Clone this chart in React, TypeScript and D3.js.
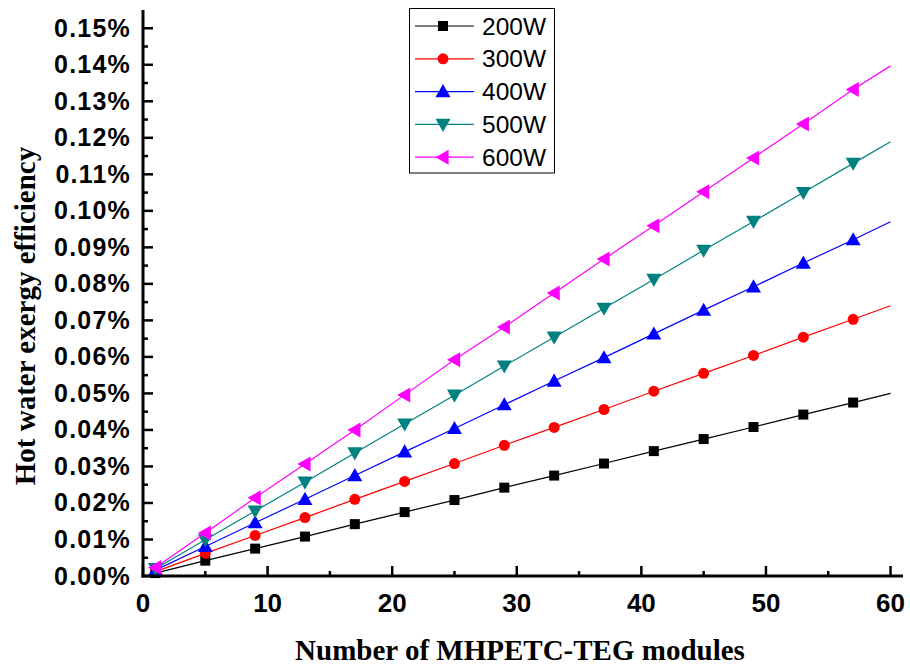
import React from "react";
import * as d3 from "d3";

const modules = [1, 5, 9, 13, 17, 21, 25, 29, 33, 37, 41, 45, 49, 53, 57, 60];
const markerModules = [1, 5, 9, 13, 17, 21, 25, 29, 33, 37, 41, 45, 49, 53, 57];
const seriesNames = ["200W", "300W", "400W", "500W", "600W"];
// values in percent
const s200 = [0.0008, 0.0042, 0.0075, 0.0108, 0.0142, 0.0175, 0.0208, 0.0242, 0.0275, 0.0308, 0.0342, 0.0375, 0.0408, 0.0442, 0.0475, 0.05];
const s300 = [0.0012, 0.0062, 0.0111, 0.016, 0.021, 0.0259, 0.0308, 0.0358, 0.0407, 0.0456, 0.0506, 0.0555, 0.0604, 0.0654, 0.0703, 0.074];
const s400 = [0.0016, 0.0081, 0.0146, 0.021, 0.0275, 0.034, 0.0404, 0.0469, 0.0534, 0.0598, 0.0663, 0.0728, 0.0792, 0.0857, 0.0921, 0.097];
const s500 = [0.002, 0.0099, 0.0178, 0.0257, 0.0337, 0.0416, 0.0495, 0.0575, 0.0654, 0.0733, 0.0812, 0.0892, 0.0971, 0.105, 0.113, 0.1189];
const s600 = [0.0023, 0.0118, 0.0214, 0.0307, 0.04, 0.0496, 0.0592, 0.0682, 0.0775, 0.0868, 0.0959, 0.1052, 0.1145, 0.1238, 0.1332, 0.1397];
const seriesValues = [s200, s300, s400, s500, s600];
const colors = ["#000000", "#ff0000", "#0000ff", "#008080", "#ff00ff"];
const markerTypes = ["square", "circle", "triUp", "triDown", "triLeft"];
const xTicks = [0, 10, 20, 30, 40, 50, 60];
const yTicks = [0, 0.01, 0.02, 0.03, 0.04, 0.05, 0.06, 0.07, 0.08, 0.09, 0.1, 0.11, 0.12, 0.13, 0.14, 0.15];

const W = 910, H = 666;
const L = 143, R = 903, T = 10, B = 576;

function Marker({ type, x, y, color }: { type: string; x: number; y: number; color: string }) {
  if (type === "square") return <rect x={x - 5} y={y - 5} width={10} height={10} fill={color} />;
  if (type === "circle") return <circle cx={x} cy={y} r={5.5} fill={color} />;
  const s = 7.5;
  let pts = "";
  if (type === "triUp") pts = `${x},${y - s} ${x - s},${y + s * 0.75} ${x + s},${y + s * 0.75}`;
  if (type === "triDown") pts = `${x},${y + s} ${x - s},${y - s * 0.75} ${x + s},${y - s * 0.75}`;
  if (type === "triLeft") pts = `${x - s},${y} ${x + s * 0.75},${y - s} ${x + s * 0.75},${y + s}`;
  return <polygon points={pts} fill={color} />;
}

export default function App() {
  const x = d3.scaleLinear().domain([0, 61]).range([L, R]);
  const y = d3.scaleLinear().domain([0, 0.155]).range([B, T]);
  const line = d3.line<number>().x((_, i) => x(modules[i])).y((d) => y(d));
  const xMinor = d3.range(5, 61, 10);
  const yMinor = d3.range(0.005, 0.155, 0.01);
  const tickFont = "Liberation Sans, Arial, sans-serif";
  const serif = "Liberation Serif, Times New Roman, serif";
  return (
    <svg width={W} height={H} style={{ position: "absolute", left: 0, top: 0, background: "#fff" }}>
      {seriesValues.map((vals, si) => (
        <g key={si}>
          <path d={line(vals) || ""} fill="none" stroke={colors[si]} strokeWidth={1.2} />
          {markerModules.map((m, i) => (
            <Marker key={i} type={markerTypes[si]} x={x(m)} y={y(vals[i])} color={colors[si]} />
          ))}
        </g>
      ))}
      <line x1={L} x2={L} y1={T} y2={B + 1.5} stroke="#000" strokeWidth={3} />
      <line x1={L - 1.5} x2={R} y1={B} y2={B} stroke="#000" strokeWidth={3} />
      {xTicks.map((t) => (
        <g key={t}>
          <line x1={x(t)} x2={x(t)} y1={B} y2={B - 10} stroke="#000" strokeWidth={2.5} />
          <text x={x(t)} y={612} textAnchor="middle" fontFamily={tickFont} fontWeight="bold" fontSize={26}>{t}</text>
        </g>
      ))}
      {xMinor.map((t) => (
        <line key={t} x1={x(t)} x2={x(t)} y1={B} y2={B - 5} stroke="#000" strokeWidth={2.5} />
      ))}
      {yTicks.map((t) => (
        <g key={t}>
          <line x1={L} x2={L + 10} y1={y(t)} y2={y(t)} stroke="#000" strokeWidth={2.5} />
          <text x={L - 12} y={y(t) + 8.5} textAnchor="end" fontFamily={tickFont} fontWeight="bold" fontSize={25} letterSpacing={1.2}>{t.toFixed(2) + "%"}</text>
        </g>
      ))}
      {yMinor.map((t, i) => (
        <line key={i} x1={L} x2={L + 5} y1={y(t)} y2={y(t)} stroke="#000" strokeWidth={2.5} />
      ))}
      <text x={520} y={660} textAnchor="middle" fontFamily={serif} fontWeight="bold" fontSize={29}>Number of MHPETC-TEG modules</text>
      <text transform={`translate(35,316) rotate(-90)`} textAnchor="middle" fontFamily={serif} fontWeight="bold" fontSize={29}>Hot water exergy efficiency</text>
      <rect x={409.5} y={8.5} width={145} height={164.5} fill="#fff" stroke="#000" strokeWidth={1} />
      {seriesNames.map((n, i) => {
        const yy = 26 + i * 32.8;
        return (
          <g key={n}>
            <line x1={415} x2={474} y1={yy} y2={yy} stroke={colors[i]} strokeWidth={1.2} />
            <Marker type={markerTypes[i]} x={443} y={yy} color={colors[i]} />
            <text x={482} y={yy + 8.5} fontFamily={tickFont} fontSize={24.5}>{n}</text>
          </g>
        );
      })}
    </svg>
  );
}
